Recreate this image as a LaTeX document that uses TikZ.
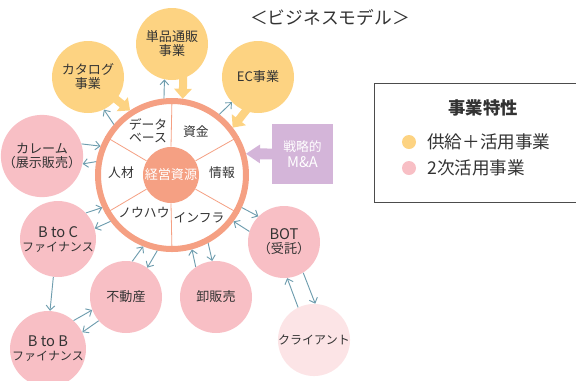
\documentclass[tikz,border=0pt]{standalone}
\usepackage{fontspec}
\setmainfont{Noto Sans CJK JP}
\usetikzlibrary{calc,arrows.meta,backgrounds}
\definecolor{orng}{HTML}{FDD382}
\definecolor{pnk}{HTML}{F8BFC5}
\definecolor{lpnk}{HTML}{FCE4E6}
\definecolor{salm}{HTML}{F5A083}
\definecolor{purp}{HTML}{D4B5D9}
\definecolor{arrc}{HTML}{6E9DAE}
\definecolor{txt}{HTML}{333333}
\newcommand{\fatarr}[6]{%
  \path ($(#2)!#5!(#1)$) coordinate (fh) ($(#1)!-4pt!(#2)$) coordinate (fs);
  \fill[#6] ($(fs)!#3!90:(#2)$) -- ($(fh)!#3!-90:(fs)$) -- ($(fh)!#4!-90:(fs)$) -- (#2)
    -- ($(fh)!#4!90:(fs)$) -- ($(fh)!#3!90:(fs)$) -- ($(fs)!#3!-90:(#2)$) -- cycle;}
\newcommand{\latn}[1]{{\fontsize{11}{11}\selectfont #1}}
\tikzset{
  bub/.style={circle, inner sep=0pt, minimum size=54pt, align=center,
    font=\fontsize{9.8}{10.5}\selectfont, text=txt},
  yel/.style={bub, fill=orng},
  pk/.style={bub, fill=pnk},
  lpk/.style={bub, fill=lpnk},
  sect/.style={font=\fontsize{9.6}{10}\selectfont, text=txt, align=center},
  spoke/.style={draw=salm, line width=0.6pt},
  ba/.style={draw=arrc, line width=0.7pt, -{Straight Barb[length=3.5pt,width=6.5pt]}},
}
\begin{document}
\begin{tikzpicture}[x=0.75pt,y=-0.75pt]
\useasboundingbox (0,0) rectangle (576,380);
% title
\node[font=\fontsize{13.3}{13}\selectfont, text=txt] (title) at (330,17) {＜ビジネスモデル＞};
% wheel
\node[circle, draw=salm, line width=4.5pt, fill=white, minimum size=111pt, inner sep=0pt] (ring) at (172,175) {};
\node[circle, fill=salm, minimum size=42pt, inner sep=0pt, text=white, font=\fontsize{9.8}{10}\selectfont] (inner) at (171,175) {経営資源};
\foreach \a in {90,30,-30,-90,210,150} \draw[spoke] (inner.\a) -- (ring.\a);
\node[sect] (s1) at (148,131) {データ\\ベース};
\node[sect] (s2) at (196,132) {資金};
\node[sect] (s3) at (222,173) {情報};
\node[sect] (s4) at (121,173) {人材};
\node[sect] (s5) at (144,213) {ノウハウ};
\node[sect] (s6) at (199,218) {インフラ};
% business circles
\node[yel] (cat) at (88,77) {カタログ\\事業};
\node[yel] (tan) at (172,44) {単品通販\\事業};
\node[yel] (ec) at (258,77) {EC事業};
\node[pk] (kar) at (42,156) {カレーム\\（展示販売）};
\node[pk] (btc) at (58,239) {\latn{B to C}\\{\fontsize{9}{10}\selectfont ファイナンス}};
\node[pk] (btb) at (48,349) {\latn{B to B}\\{\fontsize{9}{10}\selectfont ファイナンス}};
\node[pk] (fud) at (126,297) {不動産};
\node[pk] (oro) at (216,297) {卸販売};
\node[pk] (bot) at (284,242) {\latn{BOT}\\（受託）};
\node[lpk, font=\fontsize{9}{10}\selectfont] (cli) at (314,340) {クライアント};
% M&A box
\node[fill=purp, minimum width=45.75pt, minimum height=45pt, inner sep=0pt, text=white, align=center, font=\fontsize{9.6}{12}\selectfont] (ma) at (302.5,154) {戦略的\\\latn{M\&A}};
% fat arrows
\begin{pgfonlayer}{background}
\fatarr{cat.center}{ring.123}{3pt}{6.75pt}{7.5pt}{orng}
\fatarr{tan.-72}{ring.82}{3pt}{6.75pt}{7.5pt}{orng}
\fatarr{ec.-110}{ring.38}{3pt}{6.75pt}{7.5pt}{orng}
\fatarr{ma.west}{ring.16}{4.1pt}{7.1pt}{10.5pt}{purp}
\end{pgfonlayer}
% thin arrows
\draw[ba] (ring.139) -- (cat.-64);
\draw[ba] (ring.96) -- (tan.-102);
\draw[ba] (ring.52) -- (ec.-136);
\draw[ba] (kar.17) -- (ring.158);
\draw[ba] (ring.170) -- (kar.-11);
\draw[ba] (btc.43) -- (ring.205);
\draw[ba] (ring.217) -- (btc.16);
\draw[ba] (btc.-97) -- (btb.87);
\draw[ba] (btb.48) -- (fud.201);
\draw[ba] (fud.221) -- (btb.26);
\draw[ba] (fud.80) -- (ring.248);
\draw[ba] (ring.259) -- (fud.54);
\draw[ba] (oro.124) -- (ring.285);
\draw[ba] (ring.298) -- (oro.96);
\draw[ba] (ring.335) -- (bot.135);
\draw[ba] (bot.163) -- (ring.323);
\draw[ba] (cli.116) -- (bot.275);
\draw[ba] (bot.302) -- (cli.88);
% legend
\coordinate (lgtr) at (578,83);
\coordinate (lgbr) at (578,202);
\draw[draw=black!70, line width=0.75pt] (lgtr) -- (374,83) -- (374,202) -- (lgbr);
\node[font=\bfseries\fontsize{13}{13}\selectfont, text=txt] (lgt) at (483,108) {事業特性};
\node[circle, fill=orng, minimum size=10.5pt, inner sep=0pt] (d1) at (409,142) {};
\node[circle, fill=pnk, minimum size=10.5pt, inner sep=0pt] (d2) at (409,168) {};
\node[anchor=west, inner sep=0pt, font=\fontsize{13.2}{13}\selectfont, text=txt] (l1) at (427,142) {供給＋活用事業};
\node[anchor=west, inner sep=0pt, font=\fontsize{13.2}{13}\selectfont, text=txt] (l2) at (427,168) {2次活用事業};
\end{tikzpicture}
\end{document}
